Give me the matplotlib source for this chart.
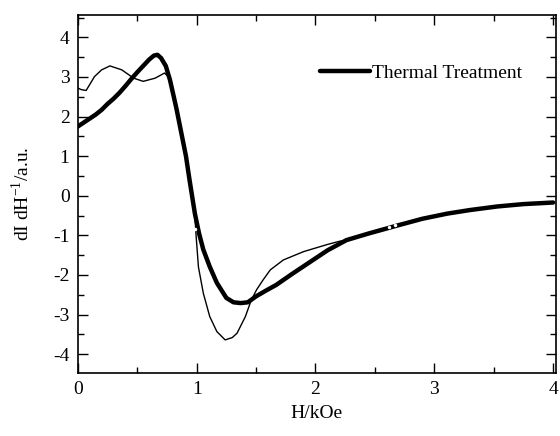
import numpy as np
import matplotlib.pyplot as plt

plt.rcParams['font.family'] = ['Liberation Serif', 'DejaVu Serif']
plt.rcParams['mathtext.fontset'] = 'custom'
plt.rcParams['mathtext.rm'] = 'Liberation Serif'
plt.rcParams['axes.unicode_minus'] = False

# field (kOe) and derivative signal, thermally treated sample
h_thermal = [0.00, 0.05, 0.10, 0.15, 0.20, 0.25, 0.30, 0.35, 0.40, 0.45,
             0.50, 0.55, 0.60, 0.64, 0.67, 0.70, 0.74, 0.775, 0.80, 0.83,
             0.87, 0.91, 0.94, 0.985, 1.02, 1.056, 1.11, 1.17, 1.25, 1.31,
             1.37, 1.43, 1.50, 1.58, 1.67, 1.80, 1.93, 2.10, 2.26, 2.45,
             2.69, 2.90, 3.11, 3.30, 3.53, 3.75, 4.00]
dI_thermal = [1.75, 1.85, 1.95, 2.05, 2.17, 2.32, 2.45, 2.60, 2.77, 2.95,
              3.12, 3.28, 3.44, 3.54, 3.56, 3.48, 3.28, 2.93, 2.60, 2.20,
              1.60, 1.00, 0.40, -0.45, -0.95, -1.36, -1.79, -2.20, -2.58, -2.69,
              -2.71, -2.69, -2.54, -2.40, -2.25, -1.98, -1.72, -1.38, -1.12, -0.95,
              -0.75, -0.58, -0.45, -0.36, -0.27, -0.21, -0.17]

# untreated sample
h_raw = [0.00, 0.03, 0.07, 0.14, 0.20, 0.27, 0.37, 0.47, 0.55, 0.65,
         0.73, 0.76, 0.80, 0.83, 0.87, 0.91, 0.94, 0.985, 0.995, 1.005,
         1.015, 1.056, 1.11, 1.17, 1.24, 1.30, 1.34, 1.41, 1.46, 1.505,
         1.56, 1.62, 1.73, 1.90, 2.00, 2.10, 2.20, 2.26, 2.45, 2.69,
         2.90, 3.11, 3.30, 3.53, 3.75, 4.00]
dI_raw = [2.72, 2.68, 2.66, 3.01, 3.18, 3.28, 3.18, 2.97, 2.89, 2.97,
          3.10, 3.01, 2.60, 2.20, 1.60, 1.00, 0.40, -0.50, -1.00, -1.40,
          -1.80, -2.46, -3.05, -3.43, -3.64, -3.58, -3.47, -3.05, -2.63, -2.37,
          -2.12, -1.87, -1.62, -1.41, -1.32, -1.23, -1.15, -1.12, -0.95, -0.75,
          -0.58, -0.45, -0.36, -0.27, -0.21, -0.17]

# open points sitting on the curves
h_pts = [0.99, 2.62, 2.67]
dI_pts = [-0.84, -0.78, -0.75]

fig = plt.figure(figsize=(5.6, 4.36), dpi=100)
ax = fig.add_axes([0.139, 0.145, 0.853, 0.821])

ax.plot(h_raw, dI_raw, color='black', lw=1.0)
ax.plot(h_thermal, dI_thermal, color='black', lw=3.2, solid_capstyle='round',
        label='Thermal Treatment')
ax.plot(h_pts, dI_pts, 'o', ms=2.5, mfc='white', mec='none')

ax.set_xlim(0, 4.02)
ax.set_ylim(-4.47, 4.57)
ax.set_xticks(np.arange(0, 5, 1))
ax.set_xticks(np.arange(0, 4.01, 0.5), minor=True)
ax.set_yticks(np.arange(-4, 5, 1))
ax.set_yticks(np.arange(-4.0, 4.51, 0.5), minor=True)
ax.set_yticklabels([str(v) for v in range(-4, 5)])
ax.tick_params(which='both', direction='in', top=True, right=True,
               labelsize=14, width=1.0)
ax.tick_params(which='major', length=7, pad=6)
ax.tick_params(which='minor', length=4)
for s in ax.spines.values():
    s.set_linewidth(1.2)

ax.set_xlabel('H/kOe', fontsize=14, labelpad=5)
ax.set_ylabel(r'dI dH$^{-1}$/a.u.', fontsize=14, labelpad=14)

ax.legend(loc='center left', bbox_to_anchor=(0.506, 0.838), frameon=False,
          fontsize=14, handlelength=2.6, handletextpad=0.1,
          borderpad=0, borderaxespad=0)

fig.savefig('out.png', dpi=100)
